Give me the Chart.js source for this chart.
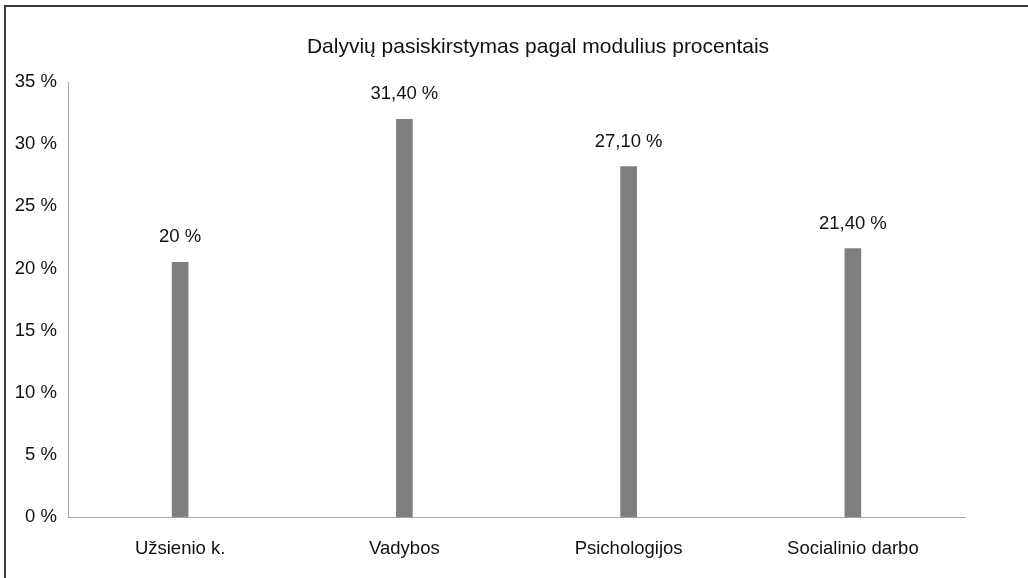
<!DOCTYPE html>
<html lang="lt">
<head>
  <meta charset="UTF-8">
  <title>Dalyvių pasiskirstymas</title>
  <script src="https://cdn.jsdelivr.net/npm/chart.js"></script>
  <style>
    body {
      margin: 0;
      background: #fff;
      font-family: "Liberation Sans", Arial, sans-serif;
    }

    #frame {
      position: absolute;
      left: 4px;
      top: 5px;
      width: 1100px;
      height: 700px;
      border-top: 2px solid #3c3c3c;
      border-left: 2px solid #3c3c3c;
    }

    #title {
      position: absolute;
      left: 38px;
      width: 1000px;
      top: 34px;
      text-align: center;
      font-size: 21px;
      color: #111;
    }

    #wrap {
      position: absolute;
      left: 0;
      top: 0;
      width: 1028px;
      height: 578px;
    }
  </style>
</head>
<body>
  <div id="frame"></div>
  <div id="wrap"><canvas id="chart"></canvas></div>
  <div id="title">Dalyvių pasiskirstymas pagal modulius procentais</div>

  <script>
    const categories = ['Užsienio k.', 'Vadybos', 'Psichologijos', 'Socialinio darbo'];
    const values = [20.5, 32.0, 28.2, 21.6];
    const valueLabels = ['20 %', '31,40 %', '27,10 %', '21,40 %'];
    const yTicks = [0, 5, 10, 15, 20, 25, 30, 35];

    const fontFamily = '"Liberation Sans", Arial, sans-serif';

    // text above each bar
    const barLabels = {
      id: 'barLabels',
      afterDatasetsDraw(chart) {
        const ctx = chart.ctx;
        const meta = chart.getDatasetMeta(0);
        ctx.save();
        ctx.font = '18.5px ' + fontFamily;
        ctx.fillStyle = '#111';
        ctx.textAlign = 'center';
        ctx.textBaseline = 'middle';
        meta.data.forEach((bar, i) => {
          ctx.fillText(valueLabels[i], bar.x, bar.y - 25);
        });
        ctx.restore();
      }
    };

    const ctx = document.getElementById('chart').getContext('2d');
    new Chart(ctx, {
      type: 'bar',
      data: {
        labels: categories,
        datasets: [{
          data: values,
          backgroundColor: '#7f7f7f',
          barThickness: 16
        }]
      },
      options: {
        responsive: true,
        maintainAspectRatio: false,
        animation: false,
        layout: {
          padding: { left: 0, right: 63, top: 82, bottom: 20 }
        },
        plugins: {
          legend: { display: false },
          tooltip: { enabled: false },
          title: { display: false }
        },
        scales: {
          x: {
            afterFit(scale) {
              scale.height = 41;
            },
            grid: { display: false, drawTicks: false },
            border: { display: true, color: '#a6a6a6', width: 1 },
            ticks: {
              color: '#111',
              padding: 21,
              font: { family: fontFamily, size: 18.5 }
            }
          },
          y: {
            min: 0,
            max: 35,
            afterBuildTicks(scale) {
              scale.ticks = yTicks.map(v => ({ value: v }));
            },
            afterFit(scale) {
              scale.width = 68;
            },
            grid: { display: false, drawTicks: false },
            border: { display: true, color: '#a6a6a6', width: 1 },
            ticks: {
              color: '#111',
              padding: 11,
              font: { family: fontFamily, size: 18.5 },
              callback: v => v + ' %'
            }
          }
        }
      },
      plugins: [barLabels]
    });
  </script>
</body>
</html>
